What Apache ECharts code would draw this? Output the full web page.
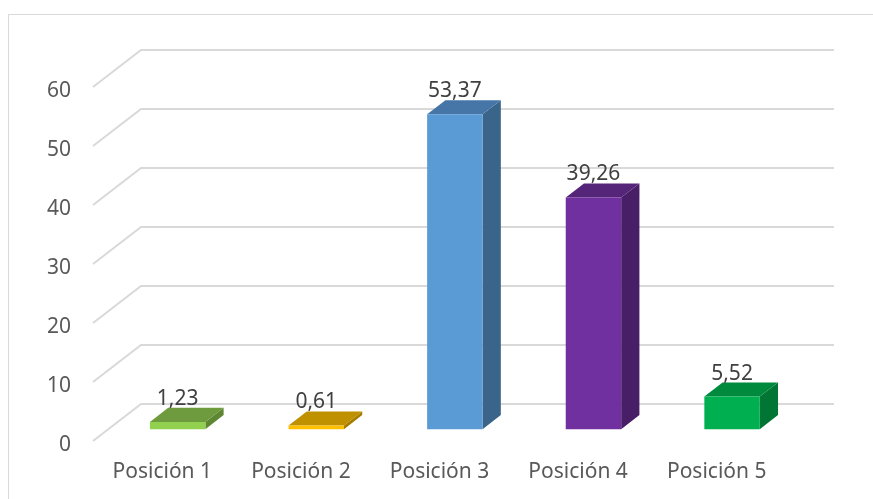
<!DOCTYPE html>
<html>
<head>
<meta charset="utf-8">
<script src="https://cdn.jsdelivr.net/npm/echarts@6/dist/echarts.min.js"></script>
<style>html,body{margin:0;padding:0;background:#fff}#c{width:873px;height:499px}</style>
</head>
<body>
<div id="c"></div>
<script>
var categories = ['Posición 1', 'Posición 2', 'Posición 3', 'Posición 4', 'Posición 5'];
var values = [1.23, 0.61, 53.37, 39.26, 5.52];
var valueLabels = ['1,23', '0,61', '53,37', '39,26', '5,52'];
var yTicks = [0, 10, 20, 30, 40, 50, 60];
var frontColors = ['#92D050', '#FFC000', '#5B9BD5', '#7030A0', '#00B050'];
var topColors = ['#6E9B3D', '#BF9000', '#4676A8', '#55257A', '#008A3E'];
var sideColors = ['#5E8733', '#A67C00', '#3A6489', '#481F67', '#007534'];

var DX = 48, DY = 37;           // wall depth offset
var BAR_FRONT = 0.32, BAR_DEPTH = 0.38, BAR_W = 0.40;
var FONT = '"Noto Sans", sans-serif';

var chart = echarts.init(document.getElementById('c'));

function gridItem(params, api) {
  var cs = params.coordSys;
  var v = api.value(0);
  var p = api.coord([0, v]);
  var y = p[1];
  var x0 = cs.x, x1 = cs.x + cs.width;
  return {
    type: 'polyline',
    shape: { points: [[x0, y], [x0 + DX, y - DY], [x1 + DX, y - DY]] },
    style: { stroke: '#D9D9D9', lineWidth: 2, fill: null },
    silent: true
  };
}

function barItem(params, api) {
  var i = api.value(0);
  var v = api.value(1);
  var top = api.coord([i, v]);
  var base = api.coord([i, 0]);
  var cw = api.size([1, 0])[0];
  var w = cw * BAR_W;
  var ox = DX * BAR_FRONT, oy = DY * BAR_FRONT;
  var dx = DX * BAR_DEPTH, dy = DY * BAR_DEPTH;
  var cx = top[0] + ox;
  var xl = cx - w / 2, xr = cx + w / 2;
  var yt = top[1] - oy, yb = base[1] - oy;
  return {
    type: 'group',
    children: [
      { type: 'polygon', shape: { points: [[xr, yt], [xr + dx, yt - dy], [xr + dx, yb - dy], [xr, yb]] },
        style: { fill: sideColors[i] } },
      { type: 'polygon', shape: { points: [[xl, yt], [xr, yt], [xr + dx, yt - dy], [xl + dx, yt - dy]] },
        style: { fill: topColors[i] } },
      { type: 'rect', shape: { x: xl, y: yt, width: w, height: yb - yt },
        style: { fill: frontColors[i] } },
      { type: 'text', style: { text: valueLabels[i], x: cx, y: yt - dy - 9, align: 'center', verticalAlign: 'middle',
        fill: '#404040', font: '21px ' + FONT } }
    ]
  };
}

chart.setOption({
  animation: false,
  backgroundColor: '#fff',
  graphic: [{ type: 'rect', shape: { x: 8.5, y: 14.5, width: 900, height: 600 },
    style: { fill: null, stroke: '#D9D9D9', lineWidth: 1 }, silent: true }],
  grid: { left: 93, right: 87, top: 87, bottom: 58 },
  xAxis: {
    type: 'category', data: categories,
    axisLine: { show: false }, axisTick: { show: false },
    axisLabel: { color: '#595959', fontSize: 21, fontFamily: 'Noto Sans', margin: 21 }
  },
  yAxis: {
    type: 'value', min: 0, max: 60, interval: 10,
    splitLine: { show: false }, axisLine: { show: false }, axisTick: { show: false },
    axisLabel: { margin: 22, formatter: '{a|{value}}',
      rich: { a: { color: '#595959', fontSize: 21, fontFamily: 'Noto Sans', padding: [9, 0, 0, 0] } } }
  },
  series: [
    { type: 'custom', renderItem: gridItem, data: yTicks.map(function (t) { return [t]; }), z: 1, silent: true },
    { type: 'custom', renderItem: barItem, data: values.map(function (v, i) { return [i, v]; }), z: 2,
      encode: { x: 0, y: 1 } }
  ]
});
</script>
</body>
</html>
